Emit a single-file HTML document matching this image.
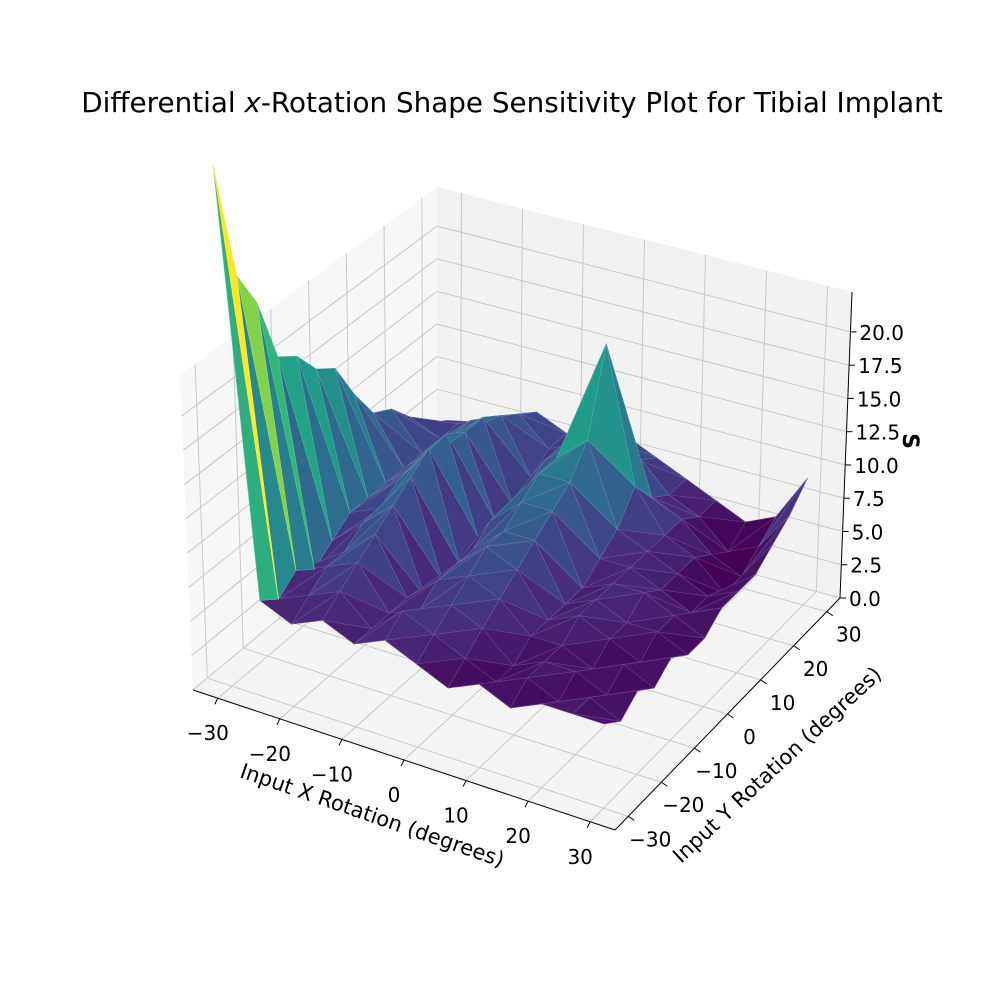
<!DOCTYPE html>
<html><head><meta charset="utf-8">
<style>
html,body{margin:0;padding:0;background:#fff;}
svg{display:block;font-family:"DejaVu Sans","Liberation Sans",sans-serif;}
</style></head>
<body>
<svg id="chart" width="1000" height="1000" viewBox="0 0 1000 1000" xmlns="http://www.w3.org/2000/svg">
<text x="512" y="112" font-size="27.8" text-anchor="middle" fill="#000">Differential <tspan font-style="italic">x</tspan>-Rotation Shape Sensitivity Plot for Tibial Implant</text>
<g id="panes"></g>
<g id="grid"></g>
<g id="axes"></g>
<g id="surface"></g>
<g id="labels"></g>
<text font-size="21" text-anchor="middle" transform="translate(370,822) rotate(19)">Input X Rotation (degrees)</text>
<text font-size="21" text-anchor="middle" transform="translate(782,770) rotate(-43)">Input Y Rotation (degrees)</text>
<text font-size="22" font-weight="bold" text-anchor="middle" transform="translate(903,441) rotate(90)">S</text>
</svg>
<script>
// ---- data ----
const xValues = [-30,-25,-20,-15,-10,-5,0,5,10,15,20,25,30];
const yValues = [-30,-25,-20,-15,-10,-5,0,5,10,15,20,25,30];
// zRows[i] is row for yValues[i], columns follow xValues
const zRow0  = [38, 7, 6, 7, 6, 7, 6, 5, 6, 5, 6, 6, 6];
const zRow1  = [29, 6, 7, 8, 6, 8, 7, 6, 5, 6, 5, 6, 5];
const zRow2  = [26, 7, 8, 9, 6, 7, 8, 7, 5, 6, 6, 5, 6];
const zRow3  = [21, 6, 8, 10, 6, 8, 9, 8, 6, 6, 5, 6, 5];
const zRow4  = [20, 7, 9, 11, 5, 8, 10, 9, 6, 7, 6, 5, 6];
const zRow5  = [18, 8, 9, 12, 5, 8, 10, 10, 6, 7, 6, 6, 5];
const zRow6  = [17, 8, 10, 13, 5, 9, 11, 11, 6, 7, 7, 6, 5];
const zRow7  = [14, 8, 10, 13, 6, 9, 12, 12, 7, 7, 6, 5, 6];
const zRow8  = [11.5, 8, 10, 12, 6, 9, 12, 14, 8, 7, 6, 5, 6];
const zRow9  = [10.7, 8, 10, 12, 6, 10, 12, 20, 10, 7, 6, 4, 6];
const zRow10 = [9, 8, 10, 11, 7, 10, 11, 12, 8, 7, 5, 4, 7];
const zRow11 = [7.4, 8, 9, 10, 8, 9, 10, 9, 7, 6, 4, 5, 8];
const zRow12 = [6.5, 7, 8, 9, 8, 8, 9, 8, 7, 6, 5, 6, 9.5];
const zRows = [zRow0,zRow1,zRow2,zRow3,zRow4,zRow5,zRow6,zRow7,zRow8,zRow9,zRow10,zRow11,zRow12];
const xTicks = [-30,-20,-10,0,10,20,30];
const yTicks = [-30,-20,-10,0,10,20,30];
const zTicks = [0,2.5,5,7.5,10,12.5,15,17.5,20];
const zTickLabels = ["0.0","2.5","5.0","7.5","10.0","12.5","15.0","17.5","20.0"];

// ---- projection ----
const XMIN=-34,XMAX=34,YMIN=-34,YMAX=34,ZMIN=0,ZMAX=23;
const C={b00:[193,690],b10:[615,830],b11:[840,598],b01:[437,487],
         t00:[180,375],t10:[617,505],t11:[852,292],t01:[437,187]};
function lerp(a,b,t){return [a[0]+(b[0]-a[0])*t,a[1]+(b[1]-a[1])*t];}
function proj(x,y,z){
  const a=(x-XMIN)/(XMAX-XMIN), b=(y-YMIN)/(YMAX-YMIN), c=(z-ZMIN)/(ZMAX-ZMIN);
  const bot=lerp(lerp(C.b00,C.b10,a),lerp(C.b01,C.b11,a),b);
  const top=lerp(lerp(C.t00,C.t10,a),lerp(C.t01,C.t11,a),b);
  return [bot[0]+(top[0]-bot[0])*c, bot[1]+(top[1]-bot[1])*c];
}
function depth(x,y,z){
  const a=(x-XMIN)/(XMAX-XMIN), b=(y-YMIN)/(YMAX-YMIN), c=(z-ZMIN)/(ZMAX-ZMIN);
  return a*0.433 - b*0.75 + c*0.5;
}
const NS="http://www.w3.org/2000/svg";
function mk(tag,parent,attrs){const e=document.createElementNS(NS,tag);for(const k in attrs)e.setAttribute(k,attrs[k]);parent.appendChild(e);return e;}
function pts(arr){return arr.map(p=>p[0].toFixed(1)+","+p[1].toFixed(1)).join(" ");}

// viridis
const VS=[[68,1,84],[72,40,120],[62,74,137],[49,104,142],[38,130,142],[31,158,137],[53,183,121],[109,205,89],[180,222,44],[253,231,37]];
function viridis(t){t=Math.max(0,Math.min(1,t));const s=t*(VS.length-1);const i=Math.min(VS.length-2,Math.floor(s));const f=s-i;
  const c=VS[i].map((v,k)=>Math.round(v+(VS[i+1][k]-v)*f));return "rgb("+c.join(",")+")";}

// ---- panes ----
const panes=document.getElementById('panes');
let p=mk('polygon',panes,{points:pts([proj(XMIN,YMIN,ZMIN),proj(XMAX,YMIN,ZMIN),proj(XMAX,YMAX,ZMIN),proj(XMIN,YMAX,ZMIN)]),fill:'#f4f4f4'});


p=mk('polygon',panes,{points:pts([proj(XMIN,YMIN,ZMIN),proj(XMIN,YMAX,ZMIN),proj(XMIN,YMAX,ZMAX),proj(XMIN,YMIN,ZMAX)]),fill:'#f7f7f7'});


p=mk('polygon',panes,{points:pts([proj(XMIN,YMAX,ZMIN),proj(XMAX,YMAX,ZMIN),proj(XMAX,YMAX,ZMAX),proj(XMIN,YMAX,ZMAX)]),fill:'#f1f1f1'});



// ---- grid ----
const grid=document.getElementById('grid');
function gl(a,b,name){const l=mk('line',grid,{x1:a[0],y1:a[1],x2:b[0],y2:b[1],stroke:'#c8c8c8','stroke-width':1});
  
  }
xTicks.forEach(t=>{gl(proj(t,YMIN,0),proj(t,YMAX,0),'grid-x-floor');gl(proj(t,YMAX,0),proj(t,YMAX,ZMAX),'grid-x-back');});
yTicks.forEach(t=>{gl(proj(XMAX,t,0),proj(XMIN,t,0),'grid-y-floor');gl(proj(XMIN,t,0),proj(XMIN,t,ZMAX),'grid-y-left');});
zTicks.forEach(t=>{gl(proj(XMIN,YMIN,t),proj(XMIN,YMAX,t),'grid-z-left');gl(proj(XMIN,YMAX,t),proj(XMAX,YMAX,t),'grid-z-back');});

// ---- axis lines ----
const axes=document.getElementById('axes');
function al(a,b,name){const l=mk('line',axes,{x1:a[0],y1:a[1],x2:b[0],y2:b[1],stroke:'#000','stroke-width':1});
  
  }
al(proj(XMIN,YMIN,0),proj(XMAX,YMIN,0),'x-axis-line');
al(proj(XMAX,YMIN,0),proj(XMAX,YMAX,0),'y-axis-line');
al(proj(XMAX,YMAX,0),proj(XMAX,YMAX,ZMAX),'z-axis-line');
xTicks.forEach(t=>{const a=proj(t,YMIN,0);al(a,[a[0]-3,a[1]+6],'x-tick');});
yTicks.forEach(t=>{const a=proj(XMAX,t,0);al(a,[a[0]+6,a[1]+4],'y-tick');});
zTicks.forEach(t=>{const a=proj(XMAX,YMAX,t);al(a,[a[0]+6,a[1]],'z-tick');});

// ---- surface ----
const surf=document.getElementById('surface');
const tris=[];
for(let j=0;j<yValues.length-1;j++){for(let i=0;i<xValues.length-1;i++){
  const P=(ii,jj)=>[xValues[ii],yValues[jj],zRows[jj][ii]];
  const a=P(i,j),b=P(i+1,j),c=P(i+1,j+1),d=P(i,j+1);
  tris.push([a,b,c]);tris.push([a,c,d]);
}}
tris.forEach(t=>{t.d=t.reduce((s,q)=>s+depth(q[0],q[1],q[2]),0)/3;t.z=(t[0][2]+t[1][2]+t[2][2])/3;});
let amin=1e9,amax=-1e9;tris.forEach(t=>{amin=Math.min(amin,t.z);amax=Math.max(amax,t.z);});
tris.sort((u,v)=>u.d-v.d);
tris.forEach(t=>{
  const col=viridis((t.z-amin)/(amax-amin));
  const poly=mk('polygon',surf,{points:pts(t.map(q=>proj(q[0],q[1],q[2]))),fill:col,stroke:col,'stroke-width':0.6,'stroke-linejoin':'round'});
  
  
  const ol=mk('polygon',surf,{points:pts(t.map(q=>proj(q[0],q[1],q[2]))),fill:'none',stroke:'rgba(255,255,255,0.2)','stroke-width':0.6});
  
  
});

// ---- tick labels ----
const labels=document.getElementById('labels');
function tl(x,y,txt,anchor,name){const e=mk('text',labels,{x:x,y:y,'font-size':20,'text-anchor':anchor,fill:'#000'});e.textContent=txt;
  
  }
function fmt(v){return v<0?"\u2212"+Math.abs(v):String(v);}
xTicks.forEach(t=>{const a=proj(t,YMIN,0);tl(a[0]-10,a[1]+42,fmt(t),'middle','x-tick-label');});
yTicks.forEach(t=>{const a=proj(XMAX,t,0);tl(a[0]+22,a[1]+30,fmt(t),'middle','y-tick-label');});
zTicks.forEach((t,k)=>{const a=proj(XMAX,YMAX,t);tl(a[0]+9,a[1]+8,zTickLabels[k],'start','z-tick-label');});
</script>
</body></html>
